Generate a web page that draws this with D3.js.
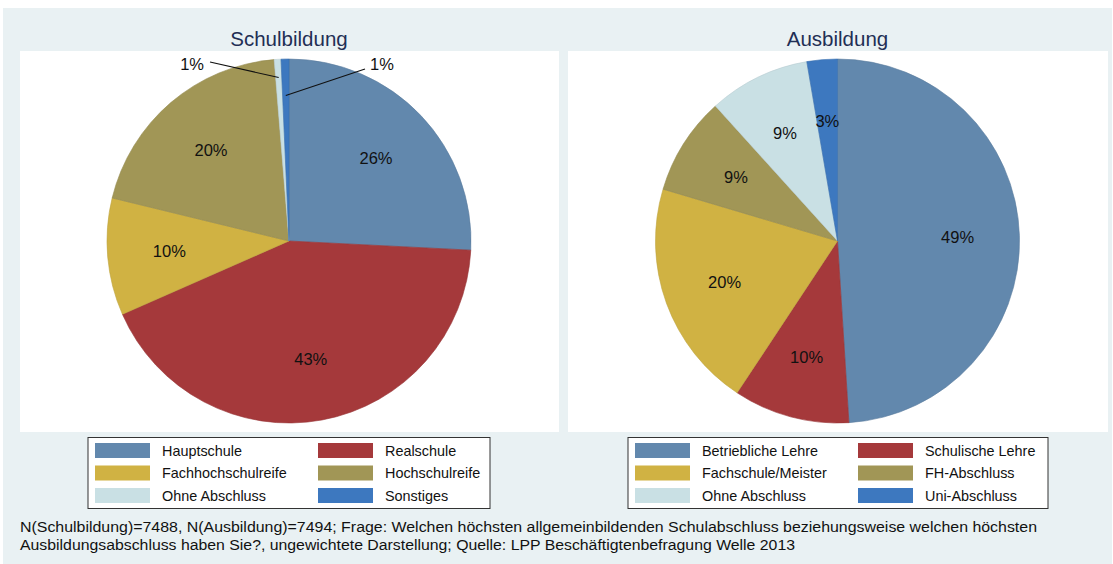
<!DOCTYPE html>
<html>
<head>
<meta charset="utf-8">
<script src="https://cdn.jsdelivr.net/npm/d3@7"></script>
<style>
  html, body { margin: 0; padding: 0; background: #ffffff; }
  svg { display: block; }
  text { font-family: "Liberation Sans", Arial, sans-serif; }
</style>
</head>
<body>
<svg id="chart" width="1113" height="564"></svg>
<script>
// ---------------- DATA ----------------
const schulCategories = ["Hauptschule", "Realschule", "Fachhochschulreife", "Hochschulreife", "Ohne Abschluss", "Sonstiges"];
const schulValues     = [25.8, 42.6, 10.4, 19.9, 0.6, 0.7];
const schulLabels     = ["26%", "43%", "10%", "20%", "1%", "1%"];

const ausCategories = ["Betriebliche Lehre", "Schulische Lehre", "Fachschule/Meister", "FH-Abschluss", "Ohne Abschluss", "Uni-Abschluss"];
const ausValues     = [49.0, 10.3, 20.3, 8.7, 9.0, 2.7];
const ausLabels     = ["49%", "10%", "20%", "9%", "9%", "3%"];

const sliceColors = ["#6288ad", "#a5393b", "#d0b243", "#a19656", "#c9e0e4", "#3d78bf"];

const panelTitles = ["Schulbildung", "Ausbildung"];
const footnoteLines = [
  "N(Schulbildung)=7488, N(Ausbildung)=7494; Frage: Welchen höchsten allgemeinbildenden Schulabschluss beziehungsweise welchen höchsten",
  "Ausbildungsabschluss haben Sie?, ungewichtete Darstellung; Quelle: LPP Beschäftigtenbefragung Welle 2013"
];

// ---------------- LAYOUT ----------------
const svg = d3.select("#chart");

svg.append("rect").attr("x", 3).attr("y", 8).attr("width", 1109).attr("height", 556).attr("fill", "#e9f1f3");

const panels = [
  { x: 20, w: 539, cats: schulCategories, vals: schulValues, labels: schulLabels, legendX: 88, legendW: 402,
    external: {
      4: { r: 0.9, textX: -85, anchor: "end",   lineX: -79, lineY: -179 },
      5: { r: 0.8, textX: 81,  anchor: "start", lineX: 76,  lineY: -172 }
    } },
  { x: 568, w: 540, cats: ausCategories, vals: ausValues, labels: ausLabels, legendX: 628, legendW: 420, external: {} }
];

const panelTop = 51, panelBottom = 432, radius = 182, centerY = 241;

panels.forEach((p, pi) => {
  const cx = p.x + p.w / 2 - 0.5;
  svg.append("rect").attr("x", p.x).attr("y", panelTop).attr("width", p.w).attr("height", panelBottom - panelTop).attr("fill", "#ffffff");

  svg.append("text").attr("x", cx).attr("y", 46).attr("text-anchor", "middle")
    .attr("font-size", 20.5).attr("fill", "#1f2f55").text(panelTitles[pi]);

  const data = p.cats.map((c, i) => ({ cat: c, value: p.vals[i], label: p.labels[i], idx: i }));
  const pie = d3.pie().value(d => d.value).sort(null);
  const arcs = pie(data);
  const arc = d3.arc().innerRadius(0).outerRadius(radius);
  const labelArc = d3.arc().innerRadius(radius * 0.66).outerRadius(radius * 0.66);

  const g = svg.append("g").attr("transform", `translate(${cx},${centerY})`);
  g.selectAll("path").data(arcs).join("path")
    .attr("d", arc)
    .attr("fill", (d, i) => sliceColors[i])
    .attr("stroke", (d, i) => d3.color(sliceColors[i]).darker(0.25))
    .attr("stroke-width", 0.6);

  arcs.forEach((a, i) => {
    const ext = p.external[i];
    if (!ext) {
      const [lx, ly] = labelArc.centroid(a);
      g.append("text").attr("x", lx).attr("y", ly).attr("dy", "0.36em")
        .attr("text-anchor", "middle").attr("font-size", 16.5).attr("fill", "#111").text(a.data.label);
    } else {
      const mid = (a.startAngle + a.endAngle) / 2;
      const px = Math.sin(mid) * radius * ext.r;
      const py = -Math.cos(mid) * radius * ext.r;
      g.append("line").attr("x1", ext.lineX).attr("y1", ext.lineY)
        .attr("x2", px).attr("y2", py).attr("stroke", "#111").attr("stroke-width", 1.1);
      g.append("text").attr("x", ext.textX).attr("y", -177).attr("dy", "0.36em")
        .attr("text-anchor", ext.anchor)
        .attr("font-size", 16.5).attr("fill", "#111").text(a.data.label);
    }
  });

  // legend
  const lg = svg.append("g");
  lg.append("rect").attr("x", p.legendX).attr("y", 437.5).attr("width", p.legendW).attr("height", 71)
    .attr("fill", "#ffffff").attr("stroke", "#333").attr("stroke-width", 1);
  data.forEach((d, i) => {
    const col = i % 2, row = Math.floor(i / 2);
    const sx = p.legendX + 7 + col * 223;
    const sy = 443 + row * 22.5;
    lg.append("rect").attr("x", sx).attr("y", sy).attr("width", 55).attr("height", 15).attr("fill", sliceColors[i]);
    lg.append("text").attr("x", sx + 67).attr("y", sy + 7.5).attr("dy", "0.36em")
      .attr("font-size", 14.4).attr("fill", "#111").text(d.cat);
  });
});

// footnote
const fn = svg.append("g");
const fnWidths = [1017, 775];
footnoteLines.forEach((t, i) => {
  fn.append("text").attr("x", 20).attr("y", 532 + i * 18)
    .attr("font-size", 14).attr("fill", "#111")
    .attr("textLength", fnWidths[i]).attr("lengthAdjust", "spacingAndGlyphs")
    .text(t);
});
</script>
</body>
</html>
